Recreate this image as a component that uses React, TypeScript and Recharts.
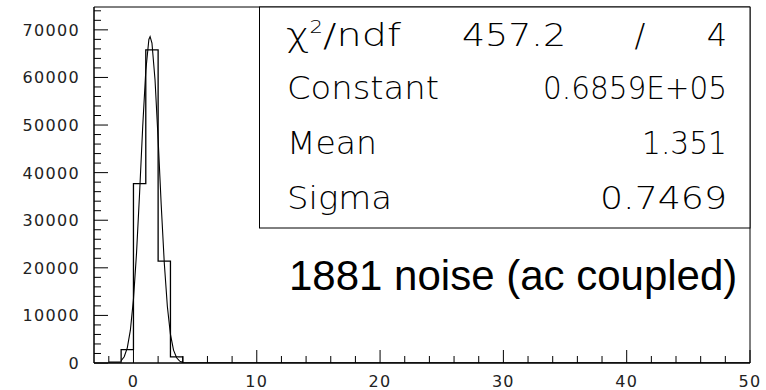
import { ComposedChart, Line, XAxis, YAxis, ReferenceArea } from 'recharts';

// histogram: lower bin edge -> entries (unit-width bins, closed at x = 50)
const binEdges = [-2, -1, 0, 1, 2, 3, 4, 50];
const binCounts = [200, 2800, 37700, 65800, 21400, 1300, 0, 0];

// fitted gaussian, sampled along the peak
const fitX = [-1, -0.75, -0.5, -0.25, 0, 0.25, 0.5, 0.75, 1, 1.25, 1.35, 1.5, 1.75, 2, 2.25, 2.5, 2.75, 3, 3.25, 3.5, 3.75, 4];
const fitY = [480, 1310, 3180, 6890, 13360, 23140, 35840, 49620, 61420, 67970, 68590, 67240, 59470, 47030, 33250, 21010, 11870, 6000, 2710, 1090, 390, 130];

const xTicks = [-2, 0, 2, 4, 6, 8, 10, 12, 14, 16, 18, 20, 22, 24, 26, 28, 30, 32, 34, 36, 38, 40, 42, 44, 46, 48, 50];
const yTicks = [
  0, 2000, 4000, 6000, 8000, 10000, 12000, 14000, 16000, 18000, 20000, 22000, 24000, 26000, 28000,
  30000, 32000, 34000, 36000, 38000, 40000, 42000, 44000, 46000, 48000, 50000, 52000, 54000, 56000,
  58000, 60000, 62000, 64000, 66000, 68000, 70000, 72000, 74000,
];

const fitLabels = ['Constant', 'Mean', 'Sigma'];
const fitValues = ['0.6859E+05', '1.351', '0.7469'];
const chiSquare = '457.2';
const ndf = '4';
const caption = '1881 noise (ac coupled)';

const histData = binEdges.map((x, i) => ({ x, y: binCounts[i] }));
const fitData = fitX.map((x, i) => ({ x, y: fitY[i] }));

const tickFont = { fontFamily: 'DejaVu Sans', fontSize: 16, letterSpacing: 1.3, fill: '#222' };
const statFont = { fontFamily: 'DejaVu Sans', fontWeight: 200, fontSize: 32, fill: '#000' };

function XTick({ x, y, payload }: any) {
  const major = payload.value % 10 === 0;
  return (
    <g>
      <line x1={x} y1={y} x2={x} y2={y - (major ? 13 : 7)} stroke="#000" />
      {major && (
        <text x={x} y={y + 24} textAnchor="middle" {...tickFont}>
          {payload.value}
        </text>
      )}
    </g>
  );
}

function YTick({ x, y, payload }: any) {
  const major = payload.value % 10000 === 0;
  return (
    <g>
      <line x1={x} y1={y} x2={x + (major ? 14 : 7)} y2={y} stroke="#000" />
      {major && (
        <text x={x - 14} y={y + 6} textAnchor="end" {...tickFont}>
          {payload.value}
        </text>
      )}
    </g>
  );
}

// stats box rows: label on the left, value right-aligned
const rowBase = [46, 99, 154, 209];
const labelWidths = [152, 90, 105];
const valueWidths = [184, 85, 127];

function FitBox() {
  return (
    <svg width={766} height={390} style={{ position: 'absolute', left: 0, top: 0, pointerEvents: 'none' }}>
      <rect x={259.5} y={7} width={490.5} height={221} fill="#fff" stroke="#000" />
      <text x={286} y={rowBase[0]} {...statFont} textLength={115} lengthAdjust="spacingAndGlyphs">
        χ<tspan dy={-13} fontSize={17}>2</tspan>
        <tspan dy={13}>/ndf</tspan>
      </text>
      <text x={462} y={rowBase[0]} {...statFont} textLength={104} lengthAdjust="spacingAndGlyphs">
        {chiSquare}
      </text>
      <text x={640} y={rowBase[0]} textAnchor="middle" {...statFont}>/</text>
      <text x={727} y={rowBase[0]} textAnchor="end" {...statFont}>{ndf}</text>
      {fitLabels.map((label, i) => (
        <g key={label}>
          <text x={287} y={rowBase[i + 1]} {...statFont} textLength={labelWidths[i]} lengthAdjust="spacingAndGlyphs">
            {label}
          </text>
          <text
            x={727 - valueWidths[i]}
            y={rowBase[i + 1]}
            {...statFont}
            textLength={valueWidths[i]}
            lengthAdjust="spacingAndGlyphs"
          >
            {fitValues[i]}
          </text>
        </g>
      ))}
      <text x={289} y={290} fontFamily="Liberation Sans, Arial" fontSize={42} fill="#000">
        {caption}
      </text>
    </svg>
  );
}

export default function App() {
  return (
    <div style={{ position: 'absolute', left: 0, top: 0, width: 766, height: 390, background: '#fff' }}>
      <ComposedChart width={766} height={390} margin={{ top: 7, right: 16, bottom: 0, left: 0 }}>
        <XAxis
          dataKey="x"
          type="number"
          domain={[-3.2, 50]}
          ticks={xTicks}
          interval={0}
          height={27}
          tickSize={0}
          tickMargin={0}
          tickLine={false}
          tick={<XTick />}
          axisLine={{ stroke: '#000' }}
          allowDataOverflow
        />
        <YAxis
          type="number"
          domain={[0, 74800]}
          ticks={yTicks}
          interval={0}
          width={94}
          tickSize={0}
          tickMargin={0}
          tickLine={false}
          tick={<YTick />}
          axisLine={{ stroke: '#000' }}
          allowDataOverflow
        />
        <ReferenceArea x1={-3.2} x2={50} y1={0} y2={74800} fill="none" stroke="#000" />
        <Line
          data={histData}
          dataKey="y"
          type="stepAfter"
          stroke="#000"
          strokeWidth={1.3}
          dot={false}
          activeDot={false}
          isAnimationActive={false}
        />
        <Line
          data={fitData}
          dataKey="y"
          type="linear"
          stroke="#000"
          strokeWidth={1.1}
          dot={false}
          activeDot={false}
          isAnimationActive={false}
        />
      </ComposedChart>
      <FitBox />
    </div>
  );
}
